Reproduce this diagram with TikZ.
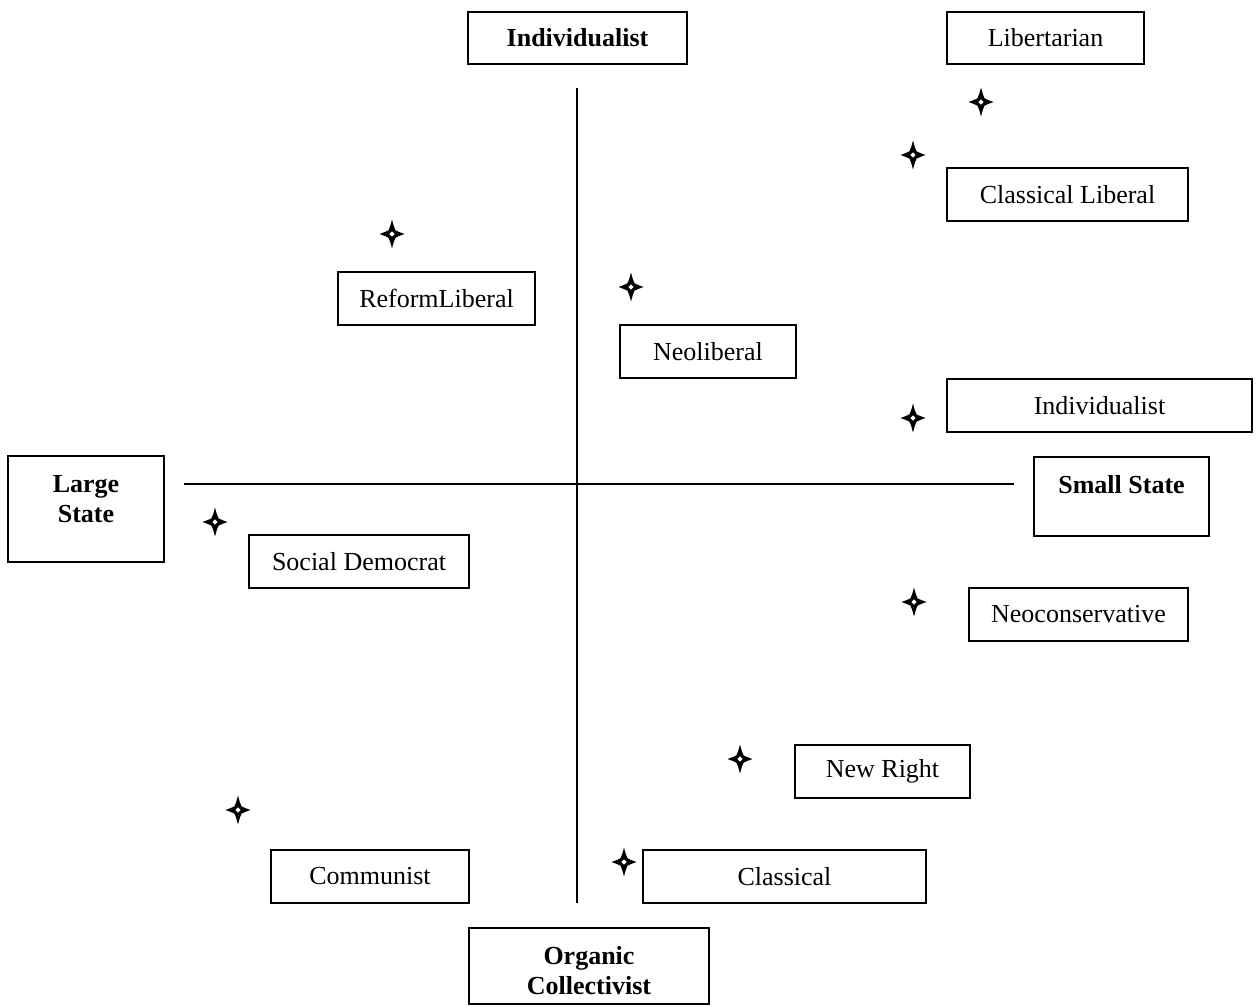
\documentclass[tikz,border=0pt]{standalone}
\usepackage{fontspec}
\setmainfont{Liberation Serif}
\begin{document}
\begin{tikzpicture}[x=1pt,y=-1pt,
  base/.style={font=\fontsize{26}{30}\selectfont},
  box/.style={base, draw, line width=1.8pt, inner sep=0pt, anchor=center},
  lbl/.style={base, inner sep=0pt, anchor=center, align=center},
  axis/.style={line width=1.8pt},
  sparkle/.pic={
    \fill[black] (0,-14.5) .. controls (2,-7) .. (3.6,-3.6)
                           .. controls (7,-2) .. (12.5,0)
                           .. controls (7,2) .. (3.6,3.6)
                           .. controls (2,7) .. (0,14.5)
                           .. controls (-2,7) .. (-3.6,3.6)
                           .. controls (-7,2) .. (-12.5,0)
                           .. controls (-7,-2) .. (-3.6,-3.6)
                           .. controls (-2,-7) .. (0,-14.5) -- cycle;
    \fill[white] (0,-2.6) -- (2.6,0) -- (0,2.6) -- (-2.6,0) -- cycle;
  }]
\useasboundingbox (0,0) rectangle (1260,1006);

% axes
\coordinate (vtop) at (577,88);
\coordinate (vbot) at (577,903);
\coordinate (hleft) at (184,484);
\coordinate (hright) at (1014,484);
\draw[axis] (vtop) -- (vbot);
\draw[axis] (hleft) -- (hright);

% axis end labels
\node[box, minimum width=219, minimum height=52] (indtop) at (577.5,38) {\bfseries Individualist};
\node[box, minimum width=156, minimum height=106] (large) at (86,509) {};
\node[lbl] (largetxt) at (86,499) {\bfseries Large\\\bfseries State};
\node[box, minimum width=175, minimum height=79] (small) at (1121.5,496.5) {};
\node[lbl] (smalltxt) at (1121.5,485) {\bfseries Small State};
\node[box, minimum width=240, minimum height=76] (organic) at (589,966) {};
\node[lbl] (organictxt) at (589,971) {\bfseries Organic\\\bfseries Collectivist};

% ideology boxes
\node[box, minimum width=197, minimum height=52] (libert) at (1045.5,38) {Libertarian};
\node[box, minimum width=241, minimum height=53] (classlib) at (1067.5,194.5) {Classical Liberal};
\node[box, minimum width=197, minimum height=53] (reform) at (436.5,298.5) {ReformLiberal};
\node[box, minimum width=176, minimum height=53] (neolib) at (708,351.5) {Neoliberal};
\node[box, minimum width=305, minimum height=53] (indright) at (1099.5,405.5) {Individualist};
\node[box, minimum width=220, minimum height=53] (socdem) at (359,561.5) {Social Democrat};
\node[box, minimum width=219, minimum height=53] (neocon) at (1078.5,614.5) {Neoconservative};
\node[box, minimum width=175, minimum height=53] (newright) at (882.5,771.5) {New Right};
\node[box, minimum width=198, minimum height=53] (communist) at (370,876.5) {Communist};
\node[box, minimum width=283, minimum height=53] (classical) at (784.5,876.5) {Classical};

% position markers
\pic at (981,102) {sparkle};
\pic at (913,155) {sparkle};
\pic at (392,234) {sparkle};
\pic at (631,287) {sparkle};
\pic at (913,418) {sparkle};
\pic at (215,522) {sparkle};
\pic at (914,602) {sparkle};
\pic at (740,759) {sparkle};
\pic at (238,810) {sparkle};
\pic at (624,862) {sparkle};
\end{tikzpicture}
\end{document}
